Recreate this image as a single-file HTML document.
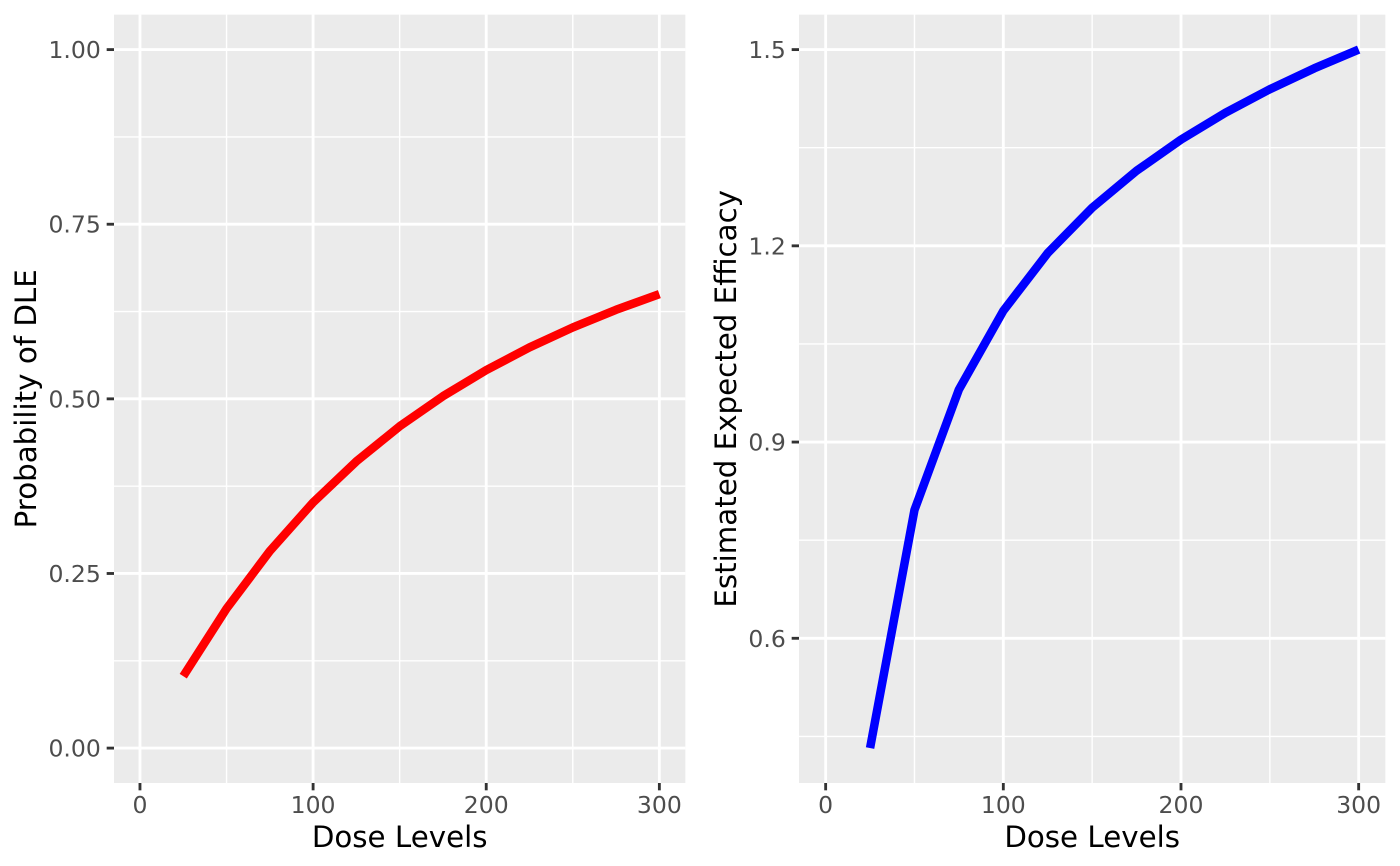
<!DOCTYPE html>
<html>
<head>
<meta charset="utf-8">
<style>
  html, body { margin: 0; padding: 0; background: #ffffff; }
  svg { display: block; }
  text { font-family: "DejaVu Sans", "Liberation Sans", sans-serif; }
  .tick { font-size: 23.5px; fill: #4D4D4D; }
  .title { font-size: 29.3px; fill: #000000; }
</style>
</head>
<body>
<svg width="1400" height="866" viewBox="0 0 1400 866" xmlns="http://www.w3.org/2000/svg">
  <rect x="0" y="0" width="1400" height="866" fill="#ffffff"/>

  <!-- ================= LEFT PANEL ================= -->
  <rect x="114" y="14.67" width="571.33" height="768.33" fill="#EBEBEB"/>
  <!-- minor grid -->
  <g stroke="#ffffff" stroke-width="1.42" fill="none">
    <line x1="114" x2="685.33" y1="660.79" y2="660.79"/>
    <line x1="114" x2="685.33" y1="486.16" y2="486.16"/>
    <line x1="114" x2="685.33" y1="311.54" y2="311.54"/>
    <line x1="114" x2="685.33" y1="136.91" y2="136.91"/>
    <line y1="14.67" y2="783" x1="226.54" x2="226.54"/>
    <line y1="14.67" y2="783" x1="399.67" x2="399.67"/>
    <line y1="14.67" y2="783" x1="572.80" x2="572.80"/>
  </g>
  <!-- major grid -->
  <g stroke="#ffffff" stroke-width="2.85" fill="none">
    <line x1="114" x2="685.33" y1="748.1" y2="748.1"/>
    <line x1="114" x2="685.33" y1="573.48" y2="573.48"/>
    <line x1="114" x2="685.33" y1="398.85" y2="398.85"/>
    <line x1="114" x2="685.33" y1="224.23" y2="224.23"/>
    <line x1="114" x2="685.33" y1="49.6" y2="49.6"/>
    <line y1="14.67" y2="783" x1="139.97" x2="139.97"/>
    <line y1="14.67" y2="783" x1="313.10" x2="313.10"/>
    <line y1="14.67" y2="783" x1="486.23" x2="486.23"/>
    <line y1="14.67" y2="783" x1="659.36" x2="659.36"/>
  </g>
  <!-- red curve -->
  <polyline fill="none" stroke="#FF0000" stroke-width="8.5" stroke-linejoin="round" stroke-linecap="butt"
    points="183.25,676.18 226.54,608.62 269.82,551.05 313.10,502.46 356.38,461.36 399.67,426.29 442.95,396.20 486.23,370.13 529.52,347.41 572.80,327.45 616.08,309.78 659.36,294.08"/>
  <!-- ticks -->
  <g stroke="#333333" stroke-width="2.85">
    <line x1="106.67" x2="114" y1="748.1" y2="748.1"/>
    <line x1="106.67" x2="114" y1="573.48" y2="573.48"/>
    <line x1="106.67" x2="114" y1="398.85" y2="398.85"/>
    <line x1="106.67" x2="114" y1="224.23" y2="224.23"/>
    <line x1="106.67" x2="114" y1="49.6" y2="49.6"/>
    <line y1="783" y2="790.33" x1="139.97" x2="139.97"/>
    <line y1="783" y2="790.33" x1="313.10" x2="313.10"/>
    <line y1="783" y2="790.33" x1="486.23" x2="486.23"/>
    <line y1="783" y2="790.33" x1="659.36" x2="659.36"/>
  </g>
  <!-- tick labels -->
  <g class="tick" text-anchor="end">
    <text x="100.8" y="756.6">0.00</text>
    <text x="100.8" y="582.0">0.25</text>
    <text x="100.8" y="407.4">0.50</text>
    <text x="100.8" y="232.7">0.75</text>
    <text x="100.8" y="58.1">1.00</text>
  </g>
  <g class="tick" text-anchor="middle">
    <text x="139.97" y="813.2">0</text>
    <text x="313.10" y="813.2">100</text>
    <text x="486.23" y="813.2">200</text>
    <text x="659.36" y="813.2">300</text>
  </g>
  <!-- titles -->
  <text class="title" x="399.67" y="847" text-anchor="middle">Dose Levels</text>
  <text class="title" text-anchor="middle" transform="translate(36,398.8) rotate(-90)">Probability of DLE</text>

  <!-- ================= RIGHT PANEL ================= -->
  <rect x="799" y="14.67" width="586.33" height="768.33" fill="#EBEBEB"/>
  <g stroke="#ffffff" stroke-width="1.42" fill="none">
    <line x1="799" x2="1385.33" y1="147.72" y2="147.72"/>
    <line x1="799" x2="1385.33" y1="343.95" y2="343.95"/>
    <line x1="799" x2="1385.33" y1="540.18" y2="540.18"/>
    <line x1="799" x2="1385.33" y1="736.41" y2="736.41"/>
    <line y1="14.67" y2="783" x1="914.49" x2="914.49"/>
    <line y1="14.67" y2="783" x1="1092.16" x2="1092.16"/>
    <line y1="14.67" y2="783" x1="1269.83" x2="1269.83"/>
  </g>
  <g stroke="#ffffff" stroke-width="2.85" fill="none">
    <line x1="799" x2="1385.33" y1="49.6" y2="49.6"/>
    <line x1="799" x2="1385.33" y1="245.83" y2="245.83"/>
    <line x1="799" x2="1385.33" y1="442.06" y2="442.06"/>
    <line x1="799" x2="1385.33" y1="638.29" y2="638.29"/>
    <line y1="14.67" y2="783" x1="825.65" x2="825.65"/>
    <line y1="14.67" y2="783" x1="1003.32" x2="1003.32"/>
    <line y1="14.67" y2="783" x1="1180.99" x2="1180.99"/>
    <line y1="14.67" y2="783" x1="1358.66" x2="1358.66"/>
  </g>
  <!-- blue curve -->
  <polyline fill="none" stroke="#0000FF" stroke-width="8.5" stroke-linejoin="round" stroke-linecap="butt"
    points="870.07,748.05 914.49,509.96 958.90,389.53 1003.32,310.79 1047.74,253.02 1092.16,207.77 1136.57,170.77 1180.99,139.60 1225.41,112.77 1269.83,89.24 1314.24,68.35 1358.66,49.58"/>
  <g stroke="#333333" stroke-width="2.85">
    <line x1="791.67" x2="799" y1="49.6" y2="49.6"/>
    <line x1="791.67" x2="799" y1="245.83" y2="245.83"/>
    <line x1="791.67" x2="799" y1="442.06" y2="442.06"/>
    <line x1="791.67" x2="799" y1="638.29" y2="638.29"/>
    <line y1="783" y2="790.33" x1="825.65" x2="825.65"/>
    <line y1="783" y2="790.33" x1="1003.32" x2="1003.32"/>
    <line y1="783" y2="790.33" x1="1180.99" x2="1180.99"/>
    <line y1="783" y2="790.33" x1="1358.66" x2="1358.66"/>
  </g>
  <g class="tick" text-anchor="end">
    <text x="785.8" y="58.1">1.5</text>
    <text x="785.8" y="254.3">1.2</text>
    <text x="785.8" y="450.6">0.9</text>
    <text x="785.8" y="646.8">0.6</text>
  </g>
  <g class="tick" text-anchor="middle">
    <text x="825.65" y="813.2">0</text>
    <text x="1003.32" y="813.2">100</text>
    <text x="1180.99" y="813.2">200</text>
    <text x="1358.66" y="813.2">300</text>
  </g>
  <text class="title" x="1092.17" y="847" text-anchor="middle">Dose Levels</text>
  <text class="title" text-anchor="middle" transform="translate(736,398.8) rotate(-90)">Estimated Expected Efficacy</text>
</svg>
</body>
</html>
